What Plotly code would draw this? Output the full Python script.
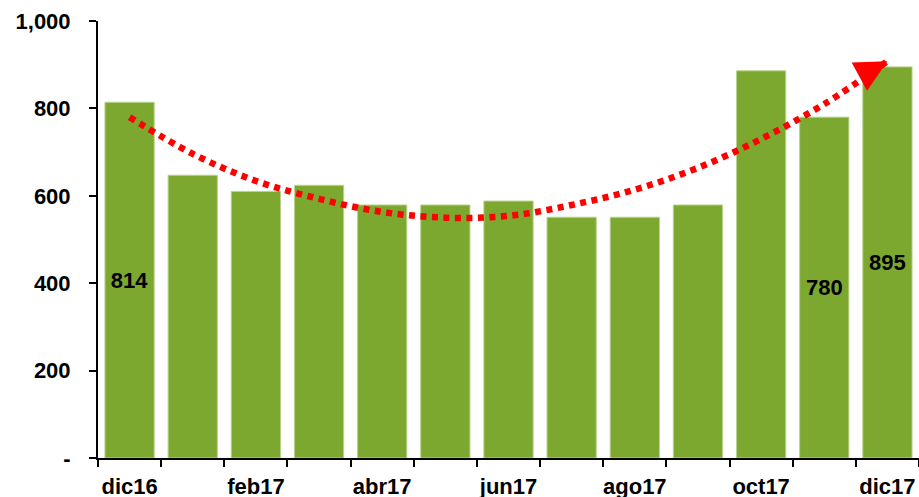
import plotly.graph_objects as go

months = ["dic16", "ene17", "feb17", "mar17", "abr17", "may17", "jun17",
          "jul17", "ago17", "sep17", "oct17", "nov17", "dic17"]
values = [814, 647, 610, 624, 579, 579, 588, 551, 551, 579, 886, 780, 895]
shown_labels = ["814", "", "", "", "", "", "", "", "", "", "", "780", "895"]
trend = [780, 696, 634, 593, 563, 550, 554, 579, 614, 664, 730, 810, 908]
x_tick_text = ["dic16", "", "feb17", "", "abr17", "", "jun17", "", "ago17", "", "oct17", "", "dic17"]
y_tick_vals = [0, 200, 400, 600, 800, 1000]
y_tick_text = ["-", "200", "400", "600", "800", "1,000"]

FONT = "Liberation Sans, Arial, sans-serif"

fig = go.Figure()
fig.add_trace(go.Bar(
    x=months, y=values,
    marker=dict(color="#7ca82f", line=dict(color="#b9d38f", width=1)),
    text=shown_labels, textposition="inside", insidetextanchor="middle",
    textfont=dict(family=FONT, size=22, color="black", weight="bold"),
    textangle=0,
    hoverinfo="x+y",
))
fig.add_trace(go.Scatter(
    x=months, y=trend, mode="lines", line_shape="spline",
    line=dict(color="#ff0000", width=6.5, dash="6px,5.5px"),
    hoverinfo="skip",
))
fig.add_annotation(
    x=months[-1], y=trend[-1], xref="x", yref="y",
    ax=-20, ay=11, showarrow=True, arrowhead=2, arrowsize=1.6,
    arrowwidth=4, arrowcolor="#ff0000", text="",
)

fig.update_layout(
    width=919, height=497,
    margin=dict(l=98, r=0, t=21, b=38.5),
    plot_bgcolor="white", paper_bgcolor="white",
    showlegend=False, bargap=0.22,
    font=dict(family=FONT, size=22, color="black"),
)
fig.update_xaxes(
    type="category", tickmode="array", tickvals=months, ticktext=x_tick_text,
    tickson="boundaries", ticks="outside", ticklen=7, tickwidth=1.5, tickcolor="black",
    showline=True, linecolor="black", linewidth=2, tickangle=0, automargin=False,
    tickfont=dict(family=FONT, size=22, color="black", weight="bold"),
    showgrid=False, range=[-0.5, 12.5], ticklabelstandoff=8,
)
fig.update_yaxes(
    range=[0, 1000], tickmode="array", tickvals=y_tick_vals, ticktext=y_tick_text,
    ticks="outside", ticklen=7, tickwidth=1.5, tickcolor="black",
    showline=True, linecolor="black", linewidth=2, automargin=False,
    tickfont=dict(family=FONT, size=22, color="black", weight="bold"),
    showgrid=False, zeroline=False, ticklabelstandoff=14,
)

fig.write_html(
    "out.html",
    config={"displayModeBar": False},
    post_script="document.body.style.margin='0';document.body.style.overflow='hidden';",
)
